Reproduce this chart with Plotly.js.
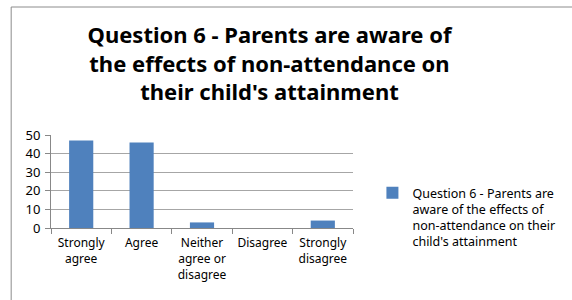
<!DOCTYPE html>
<html>
<head>
<meta charset="utf-8">
<script src="https://cdn.plot.ly/plotly-3.0.1.min.js"></script>
<style>html,body{margin:0;padding:0;background:#fff;}#chart{width:572px;height:300px;}</style>
</head>
<body>
<div id="chart"></div>
<script>
const categories = ["Strongly<br>agree", "Agree", "Neither<br>agree or<br>disagree", "Disagree", "Strongly<br>disagree"];
const values = [47, 46, 3, 0, 4];
const seriesName = "Question 6 - Parents are<br>aware of the effects of<br>non-attendance on their<br>child's attainment";
const titleText = "Question 6 - Parents are aware of<br>the effects of non-attendance on<br>their child's attainment";
const yTicks = [0, 10, 20, 30, 40, 50];

const FONT = "Noto Sans, Open Sans, sans-serif";
const L = 51, R = 362, T = 135, B = 228, W = 572, H = 300;
const pw = R - L, ph = B - T;
const px = x => (x - L) / pw;
const py = y => (B - y) / ph;

const trace = {
  type: "bar",
  x: categories,
  y: values,
  name: seriesName,
  marker: {color: "#4f81bd"},
  showlegend: true
};

const layout = {
  width: W, height: H,
  margin: {l: L, r: W - R, t: T, b: H - B, pad: 0},
  paper_bgcolor: "#fff", plot_bgcolor: "#fff",
  font: {family: FONT, size: 12.5, color: "#000"},
  bargap: 0.6,
  title: {
    text: titleText,
    font: {family: FONT, size: 22, color: "#000", weight: "bold"},
    x: px(276), xref: "paper", xanchor: "center",
    y: 1 - 43 / H, yref: "container", yanchor: "middle"
  },
  xaxis: {
    type: "category",
    showline: true, linecolor: "#888", linewidth: 1,
    ticks: "outside", tickson: "boundaries", ticklen: 5, tickcolor: "#888",
    showgrid: false, zeroline: false,
    tickangle: 0, automargin: false,
    ticklabelstandoff: 4,
    tickfont: {family: FONT, size: 12, color: "#000"}
  },
  yaxis: {
    range: [0, 50], tickvals: yTicks, ticktext: yTicks.map(String),
    showline: true, linecolor: "#888", linewidth: 1,
    ticks: "outside", ticklen: 5, tickcolor: "#888",
    showgrid: true, gridcolor: "#a6a6a6", gridwidth: 1,
    zeroline: false, automargin: false,
    ticklabelstandoff: 2,
    tickfont: {family: FONT, size: 13, color: "#000"}
  },
  legend: {
    x: px(382), y: py(178), xanchor: "left", yanchor: "top",
    valign: "top",
    font: {family: FONT, size: 12.5, color: "#000"},
    bgcolor: "rgba(0,0,0,0)", itemwidth: 30
  },
  shapes: [{
    type: "path", xref: "paper", yref: "paper",
    path: `M ${px(700)} ${py(7)} L ${px(10)} ${py(7)} L ${px(10)} ${py(400)}`,
    line: {color: "#8c8c8c", width: 1}
  }]
};

Plotly.newPlot("chart", [trace], layout, {staticPlot: true, displayModeBar: false});
</script>
</body>
</html>
